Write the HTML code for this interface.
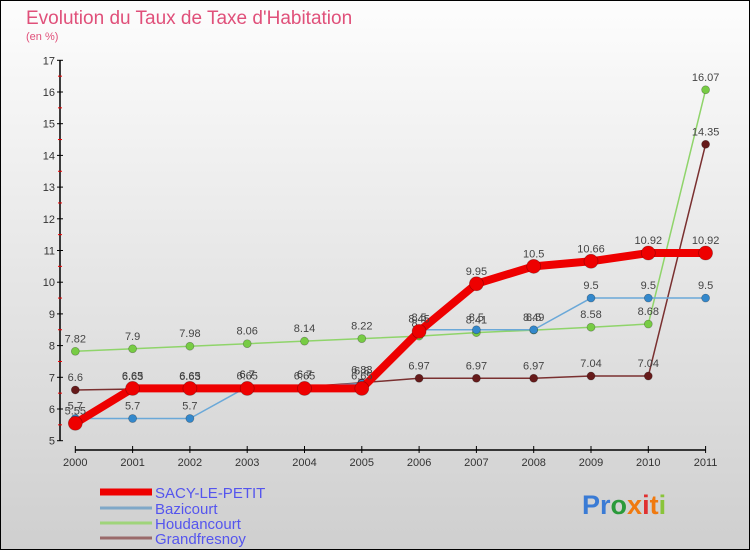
<!DOCTYPE html>
<html><head><meta charset="utf-8"><style>
body{margin:0;width:750px;height:550px;overflow:hidden;font-family:"Liberation Sans",sans-serif}
svg{display:block}
</style></head><body>
<svg id="c" width="750" height="550" xmlns="http://www.w3.org/2000/svg">
<defs><linearGradient id="bg" x1="0" y1="0" x2="0" y2="1"><stop offset="0" stop-color="#fdfdfd"/><stop offset="1" stop-color="#cfcfcf"/></linearGradient></defs>
<rect x="0.5" y="0.5" width="749" height="549" fill="url(#bg)" stroke="#000"/>
<text x="26" y="24" font-size="19" fill="#e0507a">Evolution du Taux de Taxe d'Habitation</text>
<text x="26" y="40" font-size="11" fill="#e0507a">(en %)</text>
<g id="axes"></g><g id="series"></g><g id="legend"></g>
<text x="582" y="514" font-size="27" font-weight="bold"><tspan fill="#3a7bd5">P</tspan><tspan fill="#3a7bd5">r</tspan><tspan fill="#2a9a3a">o</tspan><tspan fill="#f07a10">x</tspan><tspan fill="#e03030">i</tspan><tspan fill="#f07a10">t</tspan><tspan fill="#8ac43a">i</tspan></text>
</svg>
<script>
const years=[2000,2001,2002,2003,2004,2005,2006,2007,2008,2009,2010,2011];
const yTicks=[5,6,7,8,9,10,11,12,13,14,15,16,17];
const sacy=[5.55,6.65,6.65,6.65,6.65,6.65,8.45,9.95,10.5,10.66,10.92,10.92];
const bazicourt=[5.7,5.7,5.7,6.7,6.7,6.8,8.5,8.5,8.5,9.5,9.5,9.5];
const houdancourt=[7.82,7.9,7.98,8.06,8.14,8.22,8.3,8.41,8.49,8.58,8.68,16.07];
const grandfresnoy=[6.6,6.63,6.63,6.7,6.7,6.83,6.97,6.97,6.97,7.04,7.04,14.35];
const seriesNames=["SACY-LE-PETIT","Bazicourt","Houdancourt","Grandfresnoy"];
const NS="http://www.w3.org/2000/svg";
const x0=75.3,dx=57.3,y0=440.7,dy=31.7;
function X(i){return x0+i*dx;}
function Y(v){return y0-(v-5)*dy;}
function mk(t,a,p){const e=document.createElementNS(NS,t);for(const k in a)e.setAttribute(k,a[k]);p.appendChild(e);return e;}
const ax=document.getElementById('axes');
let l=mk('line',{x1:60,y1:Y(17),x2:60,y2:Y(5),stroke:'#000','stroke-width':1.5},ax);


l=mk('line',{x1:X(0),y1:450,x2:X(11),y2:450,stroke:'#000','stroke-width':1.5},ax);


yTicks.forEach((v,i)=>{
 mk('line',{x1:57,y1:Y(v),x2:63,y2:Y(v),stroke:'#000'},ax);
 if(i<yTicks.length-1)mk('line',{x1:58,y1:Y(v+0.5),x2:62,y2:Y(v+0.5),stroke:'#e00'},ax);
 const t=mk('text',{x:55,y:Y(v)+4,'font-size':11,'text-anchor':'end',fill:'#333'},ax);
 t.textContent=v;
 
 
});
years.forEach((yr,i)=>{
 mk('line',{x1:X(i),y1:446,x2:X(i),y2:453,stroke:'#000'},ax);
 const t=mk('text',{x:X(i),y:466,'font-size':11,'text-anchor':'middle',fill:'#333'},ax);
 t.textContent=yr;
 
 
});
const sg=document.getElementById('series');
function draw(data,color,w,r,name,dotFill){
 const g=mk('g',{},sg);
 
 
 const p=mk('polyline',{points:data.map((v,i)=>X(i)+','+Y(v)).join(' '),fill:'none',stroke:color,'stroke-width':w,'stroke-linejoin':'round'},g);
 
 
 data.forEach((v,i)=>{
  const c=mk('circle',{cx:X(i),cy:Y(v),r:r,fill:dotFill,stroke:'rgba(0,0,0,0.3)','stroke-width':0.7},g);
  
  
  const t=mk('text',{x:X(i),y:Y(v)-9,'font-size':11,'text-anchor':'middle',fill:'#444'},g);
  t.textContent=v;
  
  
 });
}
draw(houdancourt,'#8fd46a',1.5,4,'houdancourt','#77cc44');
draw(grandfresnoy,'#7a3030',1.5,4,'grandfresnoy','#661a1a');
draw(bazicourt,'#6aa8d8',1.5,4,'bazicourt','#3388cc');
draw(sacy,'#ee0000',8,7,'sacy-le-petit','#ee0000');
const lg=document.getElementById('legend');
const lc=['#ee0000','#7fa8c8','#9fd47a','#9a6a6a'],lw=[7,3,3,3],ly=[492,508,523,538];
seriesNames.forEach((n,i)=>{
 const ln=mk('line',{x1:100,y1:ly[i],x2:152,y2:ly[i],stroke:lc[i],'stroke-width':lw[i]},lg);
 
 
 const t=mk('text',{x:155,y:ly[i]+6,'font-size':15,fill:'#5555ee'},lg);
 t.textContent=n;
 
 
});
</script>
</body></html>
